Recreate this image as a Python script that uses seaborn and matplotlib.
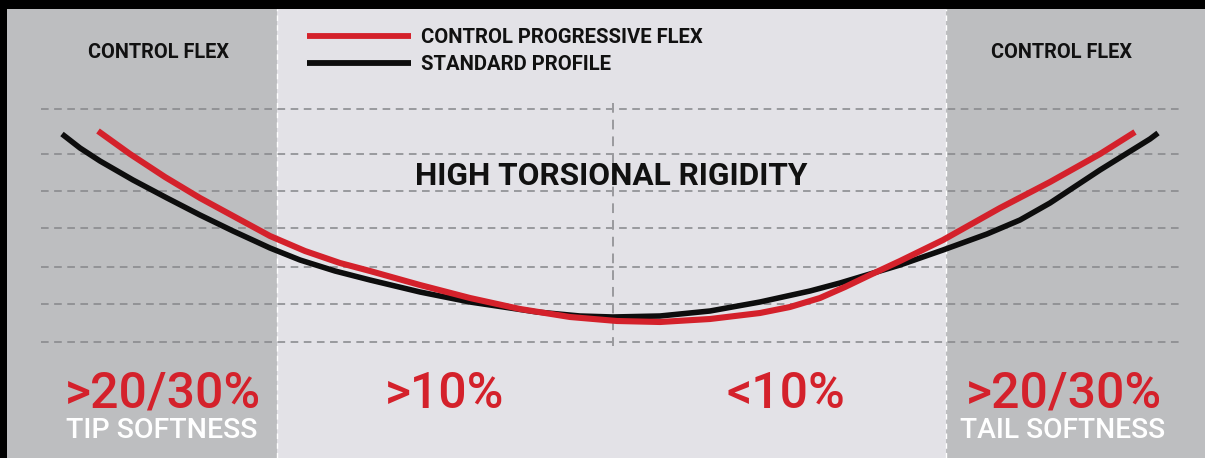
import matplotlib
matplotlib.use("Agg")
import matplotlib.pyplot as plt
import seaborn as sns
import pandas as pd

# ---------------- data (x = position along the ski, y = deflection, screen units) ----------------
progressive_x = [98, 130, 165, 200, 235, 270, 305, 340, 370, 420, 470, 520, 570, 617, 660,
                 710, 760, 790, 820, 845, 870, 900, 943, 1000, 1050, 1100, 1135]
progressive_y = [131, 154, 177, 198, 217, 236, 251, 263, 271, 285, 298, 309, 317, 321, 322,
                 319, 313, 307, 298, 287, 275, 261, 240, 208, 182, 154, 132]

standard_x = [62, 80, 100, 133, 167, 200, 233, 270, 300, 335, 370, 420, 470, 537, 580, 613,
              660, 710, 760, 810, 840, 870, 900, 943, 987, 1020, 1050, 1100, 1150, 1158]
standard_y = [134, 148, 161, 180, 198, 215, 231, 248, 260, 271, 280, 292, 302, 312, 316, 317,
              316, 311, 302, 291, 283, 274, 265, 250, 234, 220, 203, 170, 139, 133]

series_labels = ["CONTROL PROGRESSIVE FLEX", "STANDARD PROFILE"]
grid_levels = [109, 154, 191, 228, 267, 304, 342]
zone_edges = [7, 277, 946, 1205]
zone_titles = ["CONTROL FLEX", "HIGH TORSIONAL RIGIDITY", "CONTROL FLEX"]
zone_values = [">20/30%", ">10%", "<10%", ">20/30%"]
zone_notes = ["TIP SOFTNESS", "TAIL SOFTNESS"]

RED = "#d4212b"
BLACK = "#0d0d0d"
GREY_PANEL = "#bdbec0"
LIGHT_PANEL = "#e3e2e7"

sns.set_theme(style="white")
plt.rcParams["font.family"] = ["Roboto", "DejaVu Sans"]

fig = plt.figure(figsize=(12.05, 4.58), dpi=100)
ax = fig.add_axes([0, 0, 1, 1])
ax.set_xlim(0, 1205)
ax.set_ylim(458, 0)
ax.set_facecolor("black")
fig.patch.set_facecolor("black")
ax.axis("off")

top_frac = 1 - 9 / 458
ax.axvspan(zone_edges[0], zone_edges[1], ymin=0, ymax=top_frac, color=GREY_PANEL, lw=0, zorder=0)
ax.axvspan(zone_edges[1], zone_edges[2], ymin=0, ymax=top_frac, color=LIGHT_PANEL, lw=0, zorder=0)
ax.axvspan(zone_edges[2], zone_edges[3], ymin=0, ymax=top_frac, color=GREY_PANEL, lw=0, zorder=0)

# zone separators (white dashed)
for xe in zone_edges[1:3]:
    ax.axvline(xe, ymin=0, ymax=top_frac, color="white", lw=1.0, ls=(0, (4, 3)), zorder=1)

# horizontal dashed guides
for gy in grid_levels:
    ax.plot([41, 1179], [gy, gy], color="#85868a", lw=1.1, ls=(0, (5, 3.6)), zorder=1)
# centre vertical guide
ax.plot([613, 613], [103, 346], color="#9a9a9e", lw=1.4, ls=(0, (5, 3.6)), zorder=1)

df_std = pd.DataFrame({"x": standard_x, "y": standard_y, "profile": series_labels[1]})
df_prog = pd.DataFrame({"x": progressive_x, "y": progressive_y, "profile": series_labels[0]})

sns.lineplot(data=df_std, x="x", y="y", color=BLACK, lw=4.0, sort=False, ax=ax,
             label=series_labels[1], zorder=3)
sns.lineplot(data=df_prog, x="x", y="y", color=RED, lw=4.4, sort=False, ax=ax,
             label=series_labels[0], zorder=4)
for ln in ax.lines[-2:]:
    ln.set_solid_capstyle("butt")
    ln.set_solid_joinstyle("round")

handles, labels = ax.get_legend_handles_labels()
order = [labels.index(series_labels[0]), labels.index(series_labels[1])]
leg = ax.legend([handles[i] for i in order], [labels[i] for i in order],
                loc="upper left", bbox_to_anchor=(307 / 1205, 1 - 28 / 458),
                bbox_transform=fig.transFigure, frameon=False, fontsize=14.6,
                handlelength=5.15, handletextpad=0.45, labelspacing=0.38,
                borderpad=0, borderaxespad=0)
for t in leg.get_texts():
    t.set_color("#111111")
    t.set_fontweight("bold")
for h in leg.get_lines():
    h.set_linewidth(4.2)
    h.set_solid_capstyle("butt")

# zone titles
ax.text(158.5, 58, zone_titles[0], ha="center", va="baseline", fontsize=14.3,
        fontweight="bold", color="#111111")
ax.text(611, 185, zone_titles[1], ha="center", va="baseline", fontsize=22.8,
        fontweight="bold", color="#111111")
ax.text(1061.5, 58, zone_titles[2], ha="center", va="baseline", fontsize=14.3,
        fontweight="bold", color="#111111")

# percentages
for xc, txt in zip([163, 445, 786, 1063.5], zone_values):
    ax.text(xc, 408, txt, ha="center", va="baseline", fontsize=36,
            fontweight="medium", color=RED)
ax.text(162, 438, zone_notes[0], ha="center", va="baseline", fontsize=20.5,
        fontweight="medium", color="white")
ax.text(1062.5, 438, zone_notes[1], ha="center", va="baseline", fontsize=20.3,
        fontweight="medium", color="white")

fig.savefig("out.png", dpi=100, facecolor=fig.get_facecolor())
